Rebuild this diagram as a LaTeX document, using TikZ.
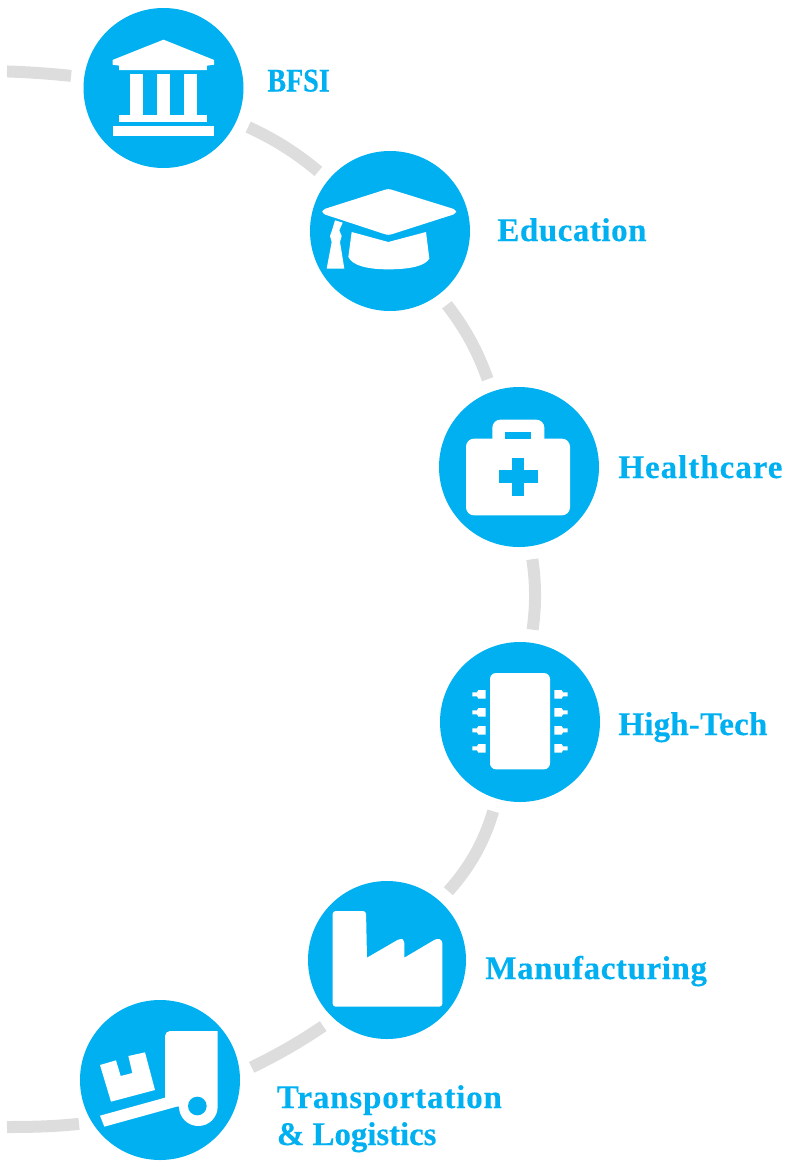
\documentclass[tikz,border=0pt]{standalone}
\usepackage{fontspec}
\setmainfont{Liberation Serif}
\usetikzlibrary{positioning}
\definecolor{skyfill}{HTML}{00B0F0}
\definecolor{railgrey}{HTML}{DDDDDD}
\tikzset{
  hub/.style={circle,fill=skyfill,minimum size=160pt,inner sep=0pt,on grid},
  rail/.style={draw=railgrey,line width=12pt,shorten >=13pt,shorten <=13pt},
  tag/.style={text=skyfill,font=\addfontfeature{LetterSpace=#1,FakeBold=0.3}\bfseries\fontsize{33}{37}\selectfont,align=left,inner sep=0pt,text height=22pt,text depth=0pt},
  tag/.default=3,
  icon/.style={xscale=1/3,yscale=-1/3},
  ink/.style={fill=white},
  cut/.style={fill=skyfill}
}
\begin{document}
\begin{tikzpicture}[x=1pt,y=1pt]
  \useasboundingbox (0,0) rectangle (795,-1167);
  \node[hub] (bfsi) at (163.5,-88) {};
  \node[hub] (edu) [below right=143pt and 226.5pt of bfsi] {};
  \node[hub] (care) [below right=236pt and 129pt of edu] {};
  \node[hub] (chip) [below right=255pt and 1pt of care] {};
  \node[hub,minimum size=158pt] (plant) [below left=238pt and 133pt of chip] {};
  \node[hub] (haul) [below left=120pt and 227pt of plant] {};
  \coordinate (railin) at (-6,-71);
  \coordinate (railout) at (-6,-1127);
  \path[rail] (railin) to[bend left=2] (bfsi);
  \path[rail] (bfsi) to[bend left=7.5] (edu);
  \path[rail] (edu) to[bend left=9] (care);
  \path[rail] (care) to[bend left=8] (chip);
  \path[rail] (chip) to[bend left=12.5] (plant);
  \path[rail] (plant.228) to[bend left=4] (haul.5);
  \path[rail] (haul.212) to[out=186,in=0] (railout);
  \node[tag,right=23.5pt of bfsi,yshift=7.5pt,font=\addfontfeature{FakeStretch=0.85,FakeBold=0.3}\bfseries\fontsize{33}{37}\selectfont] (bfsilabel) {BFSI};
  \node[tag=1.6,right=27pt of edu,yshift=1pt] (edulabel) {Education};
  \node[tag,right=19pt of care] (carelabel) {Healthcare};
  \node[tag=0.6,right=18pt of chip,yshift=-2pt] (chiplabel) {High-Tech};
  \node[tag=1.8,right=19pt of plant,yshift=-8pt] (plantlabel) {Manufacturing};
  \node[tag=2.6,right=36.5pt of haul,yshift=-54pt] (haullabel) {Transportation\\{\addfontfeature{LetterSpace=-0.3}\& Logistics}};
  % temple
  \begin{scope}[shift={(bfsi)},icon]
    \fill[ink] (0,-145) -- (152,-84) -- (152,-70) -- (130,-67) -- (130,-54) -- (-133,-54) -- (-133,-67) -- (-153,-70) -- (-153,-84) -- cycle;
    \foreach \x in {-102,-21,60}
      \fill[ink] (\x,-42) rectangle ++(41,123);
    \fill[ink] (-133,81) rectangle (130,101);
    \fill[ink] (-153,113) rectangle (152,143);
  \end{scope}
  % cap
  \begin{scope}[shift={(edu)},icon]
    \fill[ink,rounded corners=3pt] (-5,-127) -- (198,-64) -- (198,-52) -- (-5,13) -- (-203,-52) -- (-203,-64) -- cycle;
    \fill[ink] (-165,-32) -- (-175,1) -- (-180,15) -- (-175,33) -- (-190,113) -- (-137,113) -- (-150,33) -- (-145,15) -- (-152,-2) -- (-142,-25) -- cycle;
    \fill[ink] (-115,3) -- (-5,33) -- (108,3) -- (118,83) .. controls (105,105) and (60,115) .. (-5,115) .. controls (-65,115) and (-112,105) .. (-125,78) -- cycle;
  \end{scope}
  % case
  \begin{scope}[shift={(care)},icon]
    \fill[ink,rounded corners=8pt] (-80,-50) rectangle (76,-142);
    \fill[ink,rounded corners=8pt] (-159,-85) rectangle (153,145);
    \fill[cut] (-43,-105) rectangle (37,-85);
    \fill[cut] (-22,-28) rectangle (16,88);
    \fill[cut] (-61,10) rectangle (56,48);
  \end{scope}
  % processor
  \begin{scope}[shift={(chip)},icon]
    \fill[ink,rounded corners=6pt] (-90,-147) rectangle (90,142);
    \foreach \s in {-1,1}
      \foreach \y in {-83,-29,25,79}
        \fill[ink,xscale=\s] (103,\y-13) -- (125,\y-13) -- (129,\y-6) -- (143,\y-6) -- (143,\y+6) -- (129,\y+6) -- (125,\y+13) -- (103,\y+13) -- cycle;
  \end{scope}
  % factory
  \begin{scope}[shift={(plant)},icon]
    \fill[ink,rounded corners=3pt] (-163,140) -- (-163,-147) -- (-63,-147) [sharp corners] -- (-60,-7) [rounded corners=3pt] -- (40,-65) -- (52,-60) [sharp corners] -- (52,-7) [rounded corners=3pt] -- (150,-65) -- (166,-60) -- (166,140) -- cycle;
  \end{scope}
  % trolley
  \begin{scope}[shift={(haul)},icon]
    \fill[ink] (50,80) -- (-167,140) -- (-180,107) -- (15,53) [rounded corners=5pt] -- (15,-147) [sharp corners] -- (173,-147) -- (173,80) arc[start angle=0,end angle=180,radius=58] -- cycle;
    \fill[cut] (112,78) circle[radius=28];
    \fill[ink] (-180,-45) -- (-132,-59) -- (-118,-12) -- (-83,-21) -- (-95,-72) -- (-45,-83) -- (-15,30) -- (-147,65) -- cycle;
  \end{scope}
\end{tikzpicture}
\end{document}
